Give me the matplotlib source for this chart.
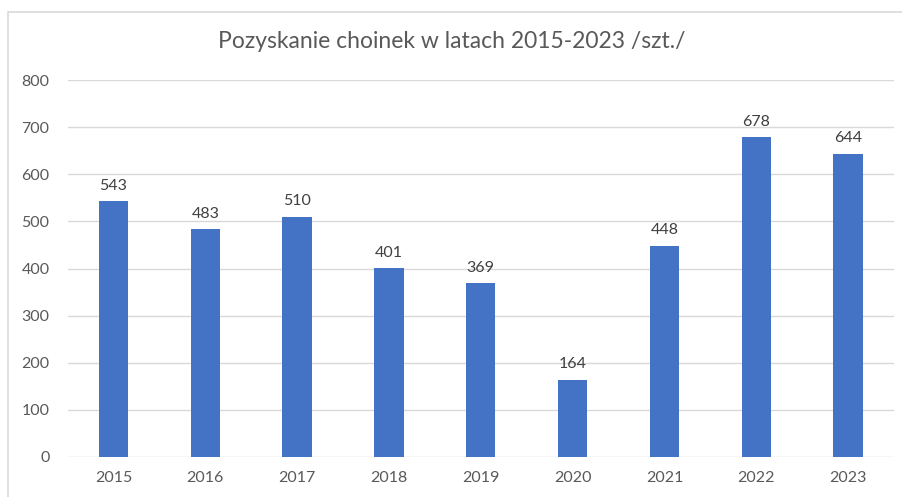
import matplotlib.pyplot as plt
from matplotlib.patches import Rectangle

years = ['2015', '2016', '2017', '2018', '2019', '2020', '2021', '2022', '2023']
trees = [543, 483, 510, 401, 369, 164, 448, 678, 644]

plt.rcParams['font.family'] = ['Lato', 'DejaVu Sans']
txt = '#595959'

fig = plt.figure(figsize=(9.03, 4.97), dpi=100)
# chart frame (only top and left edges fall inside the image)
fig.patches.append(Rectangle((8 / 903, -0.1), 1.2, 1 - 12 / 497 + 0.1,
                             transform=fig.transFigure, fill=False,
                             edgecolor='#d9d9d9', linewidth=1.2))

ax = fig.add_axes([67.5 / 903, 1 - 457 / 497, (894 - 67.5) / 903, (457 - 80) / 497])
x = range(len(years))
bars = ax.bar(x, trees, width=0.32, color='#4472c4', zorder=3)
for b, v in zip(bars, trees):
    ax.text(b.get_x() + b.get_width() / 2, v + 18, str(v), ha='center', va='bottom',
            fontsize=11.5, color='#404040')

ax.set_xlim(-0.5, len(years) - 0.5)
ax.set_ylim(0, 800)
ax.set_yticks(range(0, 801, 100))
ax.set_xticks(list(x))
ax.set_xticklabels(years)
ax.grid(axis='y', color='#d9d9d9', linewidth=1, zorder=0)
for s in ax.spines.values():
    s.set_visible(False)
ax.tick_params(length=0, labelsize=11.5, labelcolor=txt, pad=10)
ax.tick_params(axis='y', pad=13)

fig.text(0.5, 1 - 42 / 497, 'Pozyskanie choinek w latach 2015-2023 /szt./',
         ha='center', va='center', fontsize=16.5, color=txt)

fig.savefig('out.png', dpi=100, facecolor='white')
